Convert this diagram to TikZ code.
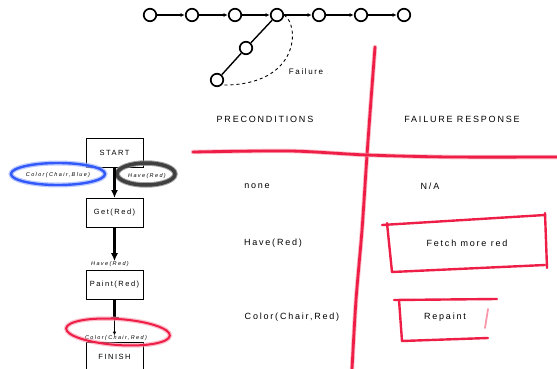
\documentclass[tikz,border=0pt]{standalone}
\usepackage{fontspec}
\setmainfont{Liberation Sans}
\newfontfamily\spaced[LetterSpace=20]{Liberation Sans}
\newfontfamily\spacedit[LetterSpace=25,ItalicFont={Liberation Sans Italic}]{Liberation Sans}
\usetikzlibrary{arrows.meta,shapes.geometric}
\definecolor{marker}{RGB}{238,30,70}
\definecolor{markerlight}{RGB}{248,150,170}
\definecolor{bluemarker}{RGB}{50,90,250}
\definecolor{bluelight}{RGB}{160,180,255}
\tikzset{
  state/.style={circle,draw,line width=1.7pt,minimum size=12.5pt,inner sep=0pt},
  chain/.style={line width=1.4pt,-{Latex[length=4pt,width=4pt]},shorten >=0.3pt},
  branch/.style={line width=1.4pt},
  stepbox/.style={rectangle,draw,line width=0.9pt,minimum width=57pt,minimum height=29pt,inner sep=0pt},
  flow/.style={line width=2.6pt,-{Latex[length=8pt,width=7pt]}},
  tinylabel/.style={font=\spacedit\fontsize{5.5}{6}\selectfont\itshape,inner sep=0pt},
  tablabel/.style={font=\spaced\fontsize{9}{10}\selectfont,inner sep=0pt},
  boxtext/.style={font=\spaced\fontsize{7.5}{9}\selectfont},
  sketch/.style={marker,line width=2.8pt,line cap=round,line join=round},
  sketchhalo/.style={markerlight,line width=4.5pt,line cap=round,line join=round,opacity=0.6},
}
\begin{document}
\begin{tikzpicture}[x=1pt,y=-1pt]
\useasboundingbox (0,0) rectangle (557,369);

% ---- plan with a failed step ----
\node[state] (c1) at (150,15) {};
\node[state] (c2) at (192,15) {};
\node[state] (c3) at (235,15) {};
\node[state] (c4) at (277,15) {};
\node[state] (c5) at (319,15) {};
\node[state] (c6) at (361,15) {};
\node[state] (c7) at (404,15) {};
\draw[chain] (c1) -- (c2);
\draw[chain] (c2) -- (c3);
\draw[chain] (c3) -- (c4);
\draw[chain] (c4) -- (c5);
\draw[chain] (c5) -- (c6);
\draw[chain] (c6) -- (c7);
\node[state] (b1) at (246,48) {};
\node[state] (b2) at (217,80) {};
\draw[branch] (c4) -- (b1);
\draw[branch] (b1) -- (b2);
\draw[dashed,line width=0.9pt] (c4.east) .. controls (300,25) and (300,86) .. (b2.south east);
\node[font=\spaced\fontsize{8}{9}\selectfont,inner sep=0pt] (fail) at (306,72) {Failure};

% ---- sketched table ----
\draw[sketchhalo] plot[smooth] coordinates {(375,47) (371,100) (367,155) (362,230) (356,300) (352,369)};
\draw[sketch] plot[smooth] coordinates {(375,47) (371,100) (367,155) (362,230) (356,300) (352,369)};
\draw[sketchhalo] plot[smooth] coordinates {(193,152) (290,151) (367,155) (450,157) (557,157)};
\draw[sketch] plot[smooth] coordinates {(193,152) (290,151) (367,155) (450,157) (557,157)};

\node[tablabel] (pre) at (265,119) {PRECONDITIONS};
\node[tablabel] (resp) at (462,119) {FAILURE RESPONSE};
\node[tablabel] (r1a) at (257,186) {none};
\node[tablabel] (r1b) at (430,186) {N/A};
\node[tablabel] (r2a) at (273,243) {Have(Red)};
\node[tablabel] (r2b) at (467,243) {Fetch more red};
\node[tablabel] (r3a) at (292,317) {Color(Chair,Red)};
\node[tablabel] (r3b) at (445,317) {Repaint};

% hand-drawn frames round the responses
\draw[sketch,line width=2.4pt] (382,225) -- (545,215);
\draw[sketch,line width=2.4pt] (545,213) -- (547,268);
\draw[sketch,line width=2.4pt] (392,272) -- (545,265);
\draw[sketch,line width=2.4pt] (387,223) -- (392,272);
\draw[sketch,line width=2.4pt] (394,300) -- (497,299);
\draw[sketch,line width=2.4pt] (399,300) -- (402,341);
\draw[sketch,line width=2.4pt] (402,341) -- (488,338);
\draw[markerlight,line width=1.8pt,line cap=round] (488,309) -- (485,328);

% ---- partial-order plan ----
\node[stepbox,boxtext] (start) at (114.5,153) {START};
\node[stepbox,boxtext] (get) at (114.5,213) {Get(Red)};
\node[stepbox,boxtext] (paint) at (114.5,285) {Paint(Red)};
\node[stepbox,boxtext] (finish) at (114.5,357) {FINISH};

\node[tinylabel] (blue) at (58,175) {Color(Chair,Blue)};
\node[tinylabel] (have1) at (147,176) {Have(Red)};
\node[tinylabel] (have2) at (110,264) {Have(Red)};
\node[tinylabel] (ccr) at (116,338) {Color(Chair,Red)};

\draw[bluelight,line width=5pt,opacity=0.7] (58,174) ellipse [x radius=47,y radius=11];
\draw[bluemarker,line width=2.4pt] (58,174) ellipse [x radius=47,y radius=11];
\draw[black!45,line width=5.5pt,opacity=0.8] (146,174) ellipse [x radius=29,y radius=11];
\draw[black!75,line width=3.5pt] (146,174) ellipse [x radius=29,y radius=11];

\draw[flow] (start) -- (get);
\draw[flow] (get) -- (have2.north -| get);
\coordinate (tick) at (114.5,318);
\draw[line width=2.6pt,-{Bar[width=8pt,line width=0.9pt]}] (paint) -- (tick);
\draw[line width=0.7pt,-{Latex[length=3.5pt,width=3.5pt]}] (tick) -- (ccr.north -| tick);

\draw[markerlight,line width=4.5pt,opacity=0.6,rotate around={-4:(118,332)}] (118,332) ellipse [x radius=52,y radius=13];
\draw[marker,line width=2pt,rotate around={-4:(118,332)}] (118,332) ellipse [x radius=52,y radius=13];
\end{tikzpicture}
\end{document}
